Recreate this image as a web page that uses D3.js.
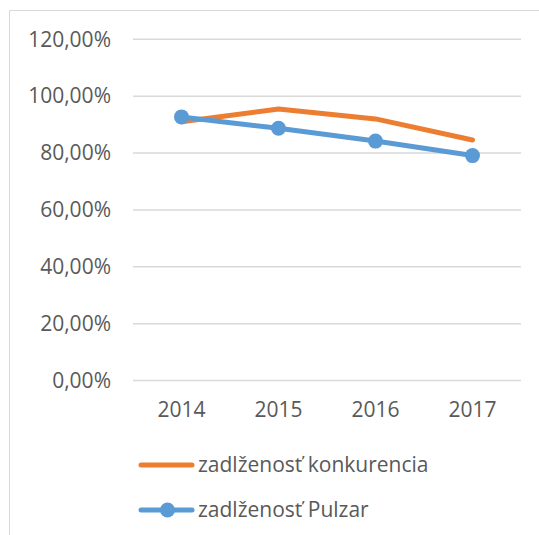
<!DOCTYPE html>
<html>
<head>
<meta charset="utf-8">
<script src="https://cdn.jsdelivr.net/npm/d3@7"></script>
<style>
  body { margin: 0; background: #fff; }
  svg { display: block; font-family: "Open Sans", sans-serif; }
</style>
</head>
<body>
<svg id="chart" width="539" height="535"></svg>
<script>
// data
const years = ["2014", "2015", "2016", "2017"];
const konkurencia = [0.910, 0.955, 0.920, 0.846];
const pulzar = [0.927, 0.887, 0.842, 0.791];
const yTicks = [0, 0.2, 0.4, 0.6, 0.8, 1.0, 1.2];
const seriesNames = ["zadlženosť konkurencia", "zadlženosť Pulzar"];

const svg = d3.select("#chart");
const textColor = "#595959";
const orange = "#ED7D31";
const blue = "#5B9BD5";
const fontSize = "21px";

// chart area border (only top and left visible in crop)
svg.append("path")
  .attr("d", "M9.5,535 V10.5 H539")
  .attr("fill", "none")
  .attr("stroke", "#d9d9d9")
  .attr("stroke-width", 1);

const x = d3.scaleBand().domain(years).range([133, 521]);
const y = d3.scaleLinear().domain([0, 1.2]).range([380.5, 39.3]);

const fmt = v => d3.format(".2f")(v * 100).replace(".", ",") + "%";

// gridlines
svg.append("g").selectAll("line")
  .data(yTicks)
  .enter().append("line")
  .attr("x1", 133).attr("x2", 521)
  .attr("y1", d => y(d)).attr("y2", d => y(d))
  .attr("stroke", "#d9d9d9")
  .attr("stroke-width", 1.5);

// y axis labels
const yAxis = svg.append("g")
  .attr("transform", "translate(111,0)")
  .call(d3.axisLeft(y).tickValues(yTicks).tickFormat(fmt).tickSize(0).tickPadding(0));
yAxis.select(".domain").remove();
yAxis.selectAll("text")
  .attr("fill", textColor)
  .style("font-size", fontSize)
  .style("font-family", "Open Sans, sans-serif");

// x axis labels
const xAxis = svg.append("g")
  .attr("transform", "translate(0,402)")
  .call(d3.axisBottom(x).tickSize(0).tickPadding(0));
xAxis.select(".domain").remove();
xAxis.selectAll("text")
  .attr("fill", textColor)
  .attr("dy", "0.71em")
  .style("font-size", fontSize)
  .style("font-family", "Open Sans, sans-serif");

const cx = d => x(d) + x.bandwidth() / 2;
const line = d3.line()
  .x((d, i) => cx(years[i]))
  .y(d => y(d));

svg.append("path")
  .datum(konkurencia)
  .attr("d", line)
  .attr("fill", "none")
  .attr("stroke", orange)
  .attr("stroke-width", 5)
  .attr("stroke-linecap", "round")
  .attr("stroke-linejoin", "round");

svg.append("path")
  .datum(pulzar)
  .attr("d", line)
  .attr("fill", "none")
  .attr("stroke", blue)
  .attr("stroke-width", 5)
  .attr("stroke-linecap", "round")
  .attr("stroke-linejoin", "round");

svg.append("g").selectAll("circle")
  .data(pulzar)
  .enter().append("circle")
  .attr("cx", (d, i) => cx(years[i]))
  .attr("cy", d => y(d))
  .attr("r", 7.5)
  .attr("fill", blue);

// legend
const legend = svg.append("g");
const legendY = [465, 510];
const legendColors = [orange, blue];
seriesNames.forEach((name, i) => {
  const g = legend.append("g").attr("transform", `translate(0,${legendY[i]})`);
  g.append("line")
    .attr("x1", 141).attr("x2", 192)
    .attr("stroke", legendColors[i])
    .attr("stroke-width", 5)
    .attr("stroke-linecap", "round");
  if (i === 1) {
    g.append("circle").attr("cx", 167.5).attr("r", 7.5).attr("fill", blue);
  }
  g.append("text")
    .attr("x", 198)
    .attr("dy", "0.35em")
    .attr("fill", textColor)
    .style("font-size", fontSize)
    .text(name);
});
</script>
</body>
</html>
